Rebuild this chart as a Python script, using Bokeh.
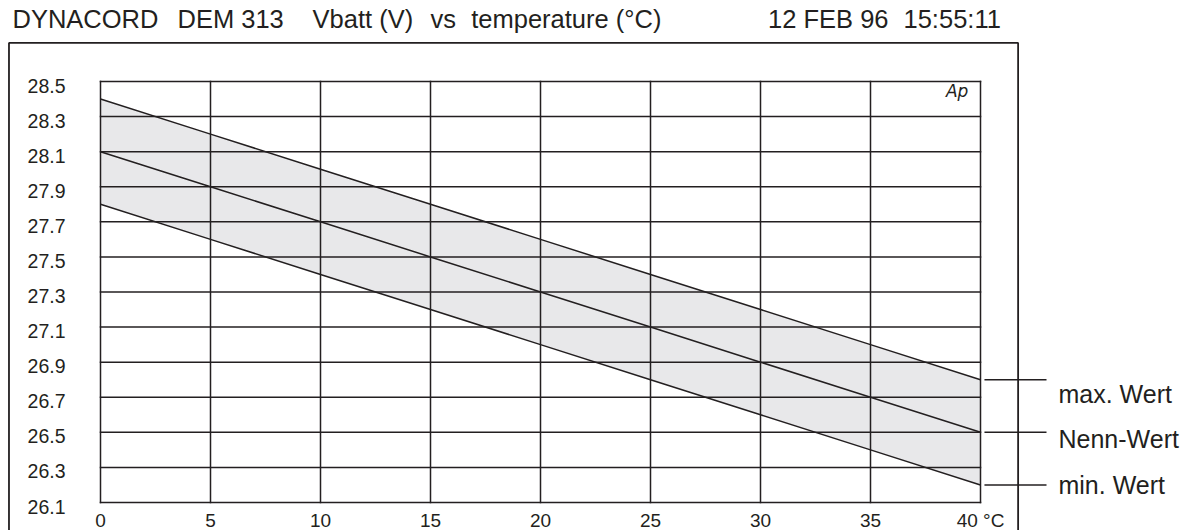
from bokeh.plotting import figure
from bokeh.models import Range1d
from bokeh.core.properties import value
from bokeh.embed import file_html
from bokeh.resources import INLINE

# ---- data ----
temperature = [0, 5, 10, 15, 20, 25, 30, 35, 40]
v_max = [28.4, 28.2, 28.0, 27.8, 27.6, 27.4, 27.2, 27.0, 26.8]
v_nenn = [28.1, 27.9, 27.7, 27.5, 27.3, 27.1, 26.9, 26.7, 26.5]
v_min = [27.8, 27.6, 27.4, 27.2, 27.0, 26.8, 26.6, 26.4, 26.2]
x_ticks = [0, 5, 10, 15, 20, 25, 30, 35, 40]
x_tick_labels = ["0", "5", "10", "15", "20", "25", "30", "35", "40 °C"]
y_ticks = [26.1, 26.3, 26.5, 26.7, 26.9, 27.1, 27.3, 27.5, 27.7, 27.9, 28.1, 28.3, 28.5]
y_tick_labels = ["26.1", "26.3", "26.5", "26.7", "26.9", "27.1", "27.3", "27.5",
                 "27.7", "27.9", "28.1", "28.3", "28.5"]
series_labels = ["max. Wert", "Nenn-Wert", "min. Wert"]
title_parts = ["DYNACORD", "DEM 313", "Vbatt (V)", "vs", "temperature (°C)"]
date_parts = ["12 FEB 96", "15:55:11"]
logo_text = "Ap"

INK = "#231f20"
FONT = "Liberation Sans"
W, H = 1197, 530
# page mapping: x=0 at 100px, 22 px per °C ; y=28.5 at 81px, 421/2.4 px per V
PX_X = 22.0
PX_Y = 421.0 / 2.4
x0_px, ytop_px = 100.0, 81.0

p = figure(
    width=W, height=H, min_border=0,
    x_range=Range1d(-x0_px / PX_X, (W - x0_px) / PX_X),
    y_range=Range1d(28.5 - (H - ytop_px) / PX_Y, 28.5 + ytop_px / PX_Y),
    x_axis_type=None, y_axis_type=None,
    output_backend="svg", toolbar_location=None,
)
p.grid.visible = False
p.outline_line_color = None
p.background_fill_color = "white"
p.border_fill_color = "white"

# band
p.varea(x=temperature, y1=v_min, y2=v_max, fill_color="#e8e8ea")

# grid (incl. inner frame)
n, m = len(x_ticks), len(y_ticks)
p.segment(x0=x_ticks, y0=[y_ticks[0]] * n, x1=x_ticks, y1=[y_ticks[-1]] * n,
          line_color=INK, line_width=1.5, line_cap="square")
p.segment(x0=[x_ticks[0]] * m, y0=y_ticks, x1=[x_ticks[-1]] * m, y1=y_ticks,
          line_color=INK, line_width=1.5, line_cap="square")

# series lines
for ys in (v_max, v_nenn, v_min):
    p.line(temperature, ys, line_color=INK, line_width=1.5)

# tick labels
p.text(x=x_ticks, y=[y_ticks[0]] * n, text=x_tick_labels, y_offset=18,
       text_font=value(FONT), text_font_size="19px", text_color=INK,
       text_align="center", text_baseline="middle")
p.text(x=[x_ticks[0]] * m, y=y_ticks, text=y_tick_labels, x_offset=-35, y_offset=4,
       text_font=value(FONT), text_font_size="19.5px", text_color=INK,
       text_align="right", text_baseline="middle")

# outer frame
p.quad(left=-4.16, right=41.71, top=28.72, bottom=25.0,
       fill_alpha=0, line_color=INK, line_width=1.8)

# title texts
title_y = 28.856
title_x = [-4.0, 3.5, 9.64, 15.0, 16.85]
p.text(x=title_x, y=[title_y] * len(title_parts), text=title_parts,
       text_font=value(FONT), text_font_size="25.5px", text_color=INK,
       text_align="left", text_baseline="middle")
p.text(x=[35.82], y=[title_y], text=[date_parts[0]],
       text_font=value(FONT), text_font_size="25.5px", text_color=INK,
       text_align="right", text_baseline="middle")
p.text(x=[36.5], y=[title_y], text=[date_parts[1]],
       text_font=value(FONT), text_font_size="25.5px", text_color=INK,
       text_align="left", text_baseline="middle")

# logo
p.text(x=[39.45], y=[28.446], text=[logo_text], text_font=value("DejaVu Sans"),
       text_font_style="italic", text_font_size="17px", text_color=INK,
       text_align="right", text_baseline="middle")

# right-hand legend
ends = [v_max[-1], v_nenn[-1], v_min[-1]]
label_y = [26.72, 26.46, 26.2]
p.segment(x0=[40.18] * 3, y0=ends, x1=[43.0] * 3, y1=ends, line_color=INK, line_width=1.5)
p.text(x=[43.545] * 3, y=label_y, text=series_labels,
       text_font=value(FONT), text_font_size="25px", text_color=INK,
       text_align="left", text_baseline="middle")

open("out.html", "w").write(file_html(p, INLINE))
